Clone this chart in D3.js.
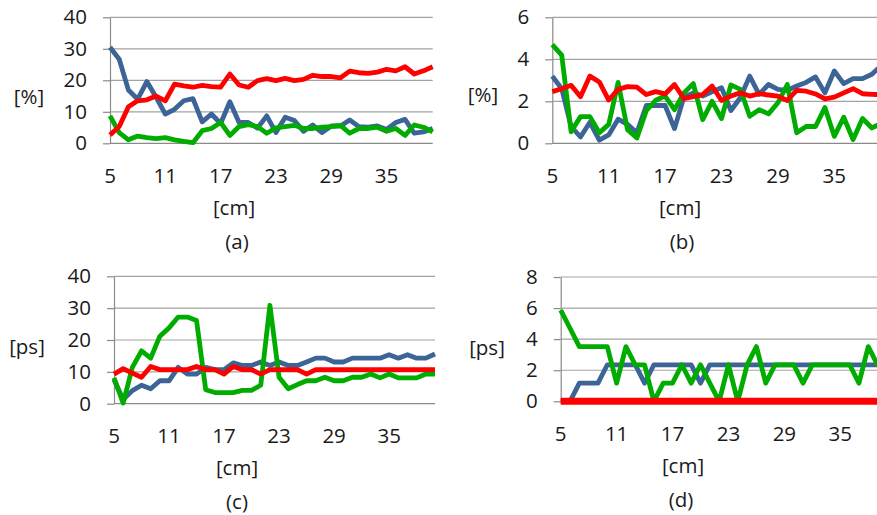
<!DOCTYPE html>
<html>
<head>
<meta charset="utf-8">
<script src="https://cdn.jsdelivr.net/npm/d3@7"></script>
<style>
  body { margin: 0; background: #fff; }
  svg { display: block; }
  text { font-family: "Open Sans", Lato, sans-serif; fill: #1a1a1a; }
</style>
</head>
<body>
<svg id="chart" width="877" height="515"></svg>
<script>
// Distance along the sample, cm
const categories = [5, 6, 7, 8, 9, 10, 11, 12, 13, 14, 15, 16, 17, 18, 19, 20, 21, 22,
  23, 24, 25, 26, 27, 28, 29, 30, 31, 32, 33, 34, 35, 36, 37, 38, 39, 40];
const xTickLabels = [5, 11, 17, 23, 29, 35];

// (a) [%]
const aBlue = [30.5, 26.7, 16.9, 14.0, 19.6, 14.6, 9.3, 10.8, 13.5, 14.2, 6.8, 9.3, 6.3, 13.2, 6.6, 6.6, 4.8, 8.7,
  3.4, 8.3, 7.2, 3.8, 5.8, 3.4, 5.5, 5.5, 7.4, 5.3, 5.1, 5.5, 4.4, 6.6, 7.6, 3.2, 3.6, 4.7];
const aRed = [2.6, 5.3, 11.6, 13.5, 13.8, 15.0, 13.5, 18.8, 18.2, 17.8, 18.4, 18.0, 17.8, 22.0, 18.5, 17.8, 19.9, 20.5,
  19.9, 20.6, 19.9, 20.3, 21.6, 21.2, 21.2, 20.8, 22.9, 22.4, 22.2, 22.6, 23.5, 23.0, 24.3, 22.0, 23.0, 24.3];
const aGreen = [8.7, 3.4, 1.1, 2.3, 1.8, 1.5, 1.8, 1.1, 0.6, 0.2, 4.0, 4.7, 6.6, 2.5, 5.3, 5.9, 5.3, 3.2,
  4.9, 5.3, 5.7, 4.7, 4.7, 5.1, 5.3, 5.7, 3.2, 4.7, 4.7, 5.1, 3.8, 4.7, 2.5, 5.8, 5.1, 3.6];
const aTicks = [0, 10, 20, 30, 40];

// (b) [%]
const bBlue = [3.2, 2.6, 0.8, 0.3, 1.0, 0.15, 0.4, 1.15, 0.9, 0.5, 1.8, 1.8, 1.8, 0.7, 2.2, 2.4, 2.25, 2.45,
  2.65, 1.56, 2.17, 3.2, 2.33, 2.8, 2.57, 2.52, 2.73, 2.9, 3.16, 2.4, 3.44, 2.84, 3.08, 3.08, 3.29, 3.7];
const bRed = [2.46, 2.6, 2.76, 2.22, 3.2, 2.92, 2.06, 2.57, 2.7, 2.67, 2.32, 2.46, 2.35, 2.8, 2.13, 2.22, 2.32, 2.73,
  2.04, 2.25, 2.4, 2.25, 2.36, 2.3, 2.25, 2.04, 2.52, 2.48, 2.35, 2.12, 2.2, 2.4, 2.6, 2.36, 2.33, 2.32];
const bGreen = [4.7, 4.2, 0.55, 1.27, 1.27, 0.5, 0.9, 2.9, 0.65, 0.25, 1.55, 2.05, 2.25, 1.6, 2.4, 2.84, 1.13, 2.0,
  1.18, 2.78, 2.57, 1.29, 1.6, 1.4, 1.93, 2.8, 0.5, 0.8, 0.8, 1.7, 0.33, 1.24, 0.18, 1.18, 0.73, 0.95];
const bTicks = [0, 2, 4, 6];

// (c) [ps]
const cBlue = [7.5, 1.3, 4.1, 5.8, 4.7, 7.2, 7.2, 11.4, 9.3, 9.3, 11.4, 10.7, 10.7, 12.8, 12.0, 12.0, 13.1, 12.0,
  13.1, 12.0, 12.0, 13.1, 14.3, 14.3, 13.1, 13.1, 14.3, 14.3, 14.3, 14.3, 15.4, 14.3, 15.4, 14.3, 14.3, 15.6];
const cRed = [9.3, 11.0, 9.6, 8.3, 11.7, 10.7, 10.7, 10.7, 10.7, 11.7, 10.7, 10.7, 9.3, 11.7, 10.7, 10.7, 9.3, 10.7,
  10.7, 10.7, 10.7, 9.3, 10.7, 10.7, 10.7, 10.7, 10.7, 10.7, 10.7, 10.7, 10.7, 10.7, 10.7, 10.7, 10.7, 10.7];
const cGreen = [8.1, 0.2, 11.4, 16.6, 14.3, 21.2, 23.8, 27.2, 27.2, 26.1, 4.4, 3.5, 3.5, 3.5, 4.2, 4.2, 5.8, 30.9,
  8.3, 4.7, 6.0, 7.2, 7.2, 8.3, 7.2, 7.2, 8.3, 8.3, 9.3, 8.1, 9.3, 8.1, 8.1, 8.1, 9.3, 9.3];
const cTicks = [0, 10, 20, 30, 40];

// (d) [ps]
const dBlue = [0, 0, 1.17, 1.17, 1.17, 2.35, 2.35, 2.35, 2.35, 1.17, 2.35, 2.35, 2.35, 2.35, 2.35, 1.17, 2.35, 2.35,
  2.35, 2.35, 2.35, 2.35, 2.35, 2.35, 2.35, 2.35, 2.35, 2.35, 2.35, 2.35, 2.35, 2.35, 2.35, 2.35, 2.35, 2.35];
const dRed = [0, 0, 0, 0, 0, 0, 0, 0, 0, 0, 0, 0, 0, 0, 0, 0, 0, 0,
  0, 0, 0, 0, 0, 0, 0, 0, 0, 0, 0, 0, 0, 0, 0, 0, 0, 0];
const dGreen = [5.87, 4.7, 3.52, 3.52, 3.52, 3.52, 1.17, 3.52, 2.35, 2.35, 0, 1.17, 1.17, 2.35, 1.17, 2.35, 1.17, 0,
  2.35, 0, 2.35, 3.52, 1.17, 2.35, 2.35, 2.35, 1.17, 2.35, 2.35, 2.35, 2.35, 2.35, 1.17, 3.52, 2.35, 2.35];
const dTicks = [0, 2, 4, 6, 8];

const units = ["[%]", "[%]", "[ps]", "[ps]"];
const captions = ["(a)", "(b)", "(c)", "(d)"];
const xTitle = "[cm]";

const colors = { blue: "#3C6496", red: "#FF0000", green: "#00AC00" };

// Panel layout (pixel frame of each plot area)
const layout = [
  { x0: 110,   x1: 432.7, top: 17.3,  bottom: 143.3, unitX: 29,  unitY: 97,  titleX: 234, capX: 237 },
  { x0: 552.3, x1: 881.3, top: 17.3,  bottom: 143.3, unitX: 483, unitY: 95,  titleX: 680, capX: 682 },
  { x0: 114,   x1: 435,   top: 276.3, bottom: 403.7, unitX: 27,  unitY: 347, titleX: 237, capX: 237 },
  { x0: 560.7, x1: 886.9, top: 277,   bottom: 401.3, unitX: 487, unitY: 348, titleX: 683, capX: 681 }
];

const series = [
  { blue: aBlue, red: aRed, green: aGreen, ticks: aTicks },
  { blue: bBlue, red: bRed, green: bGreen, ticks: bTicks },
  { blue: cBlue, red: cRed, green: cGreen, ticks: cTicks },
  { blue: dBlue, red: dRed, green: dGreen, ticks: dTicks }
];

const svg = d3.select("#chart");
const fontSize = 20.5;
const fontFamily = "'Open Sans', Lato, sans-serif";
const lineWidth = 4.8;

series.forEach((s, k) => {
  const L = layout[k];
  const g = svg.append("g");

  const x = d3.scalePoint().domain(categories).range([L.x0, L.x1]);
  const yMax = d3.max(s.ticks);
  const y = d3.scaleLinear().domain([0, yMax]).range([L.bottom, L.top]);

  // horizontal gridlines
  g.append("g").selectAll("line")
    .data(s.ticks.filter(t => t > 0))
    .join("line")
    .attr("x1", L.x0).attr("x2", L.x1)
    .attr("y1", d => y(d)).attr("y2", d => y(d))
    .attr("stroke", "#a3a3a3").attr("stroke-width", 1.2);

  // category axis baseline
  g.append("line")
    .attr("x1", L.x0).attr("x2", L.x1)
    .attr("y1", y(0)).attr("y2", y(0))
    .attr("stroke", "#8a8a8a").attr("stroke-width", 1.2);

  // value axis
  const yAxis = d3.axisLeft(y)
    .tickValues(s.ticks)
    .tickFormat(d3.format("d"))
    .tickSize(7).tickSizeOuter(0).tickPadding(16);
  const ya = g.append("g").attr("transform", `translate(${L.x0},0)`).call(yAxis);
  ya.select(".domain").attr("stroke", "#8a8a8a").attr("stroke-width", 1.2);
  ya.selectAll(".tick line").attr("stroke", "#8a8a8a").attr("stroke-width", 1.2);
  ya.selectAll(".tick text")
    .attr("font-size", fontSize)
    .style("font-family", fontFamily)
    .attr("fill", "#1a1a1a");

  // category labels
  g.append("g").selectAll("text")
    .data(xTickLabels)
    .join("text")
    .attr("x", d => x(d))
    .attr("y", y(0) + 39.4)
    .attr("text-anchor", "middle")
    .attr("font-size", fontSize)
    .text(d => d);

  // data lines
  const line = d3.line()
    .x((d, i) => x(categories[i]))
    .y(d => y(d));

  [["blue", lineWidth], ["green", lineWidth], ["red", k === 3 ? 7 : lineWidth]].forEach(([name, w]) => {
    g.append("path")
      .datum(s[name])
      .attr("d", line)
      .attr("fill", "none")
      .attr("stroke", colors[name])
      .attr("stroke-width", w)
      .attr("stroke-linejoin", "round")
      .attr("stroke-linecap", "butt");
  });

  // axis titles and caption
  g.append("text")
    .attr("x", L.unitX).attr("y", L.unitY)
    .attr("text-anchor", "middle").attr("dy", "0.35em")
    .attr("font-size", fontSize)
    .text(units[k]);

  g.append("text")
    .attr("x", L.titleX).attr("y", y(0) + 71.7)
    .attr("text-anchor", "middle")
    .attr("font-size", fontSize)
    .text(xTitle);

  g.append("text")
    .attr("x", L.capX).attr("y", y(0) + 105.7)
    .attr("text-anchor", "middle")
    .attr("font-size", fontSize)
    .text(captions[k]);
});
</script>
</body>
</html>
